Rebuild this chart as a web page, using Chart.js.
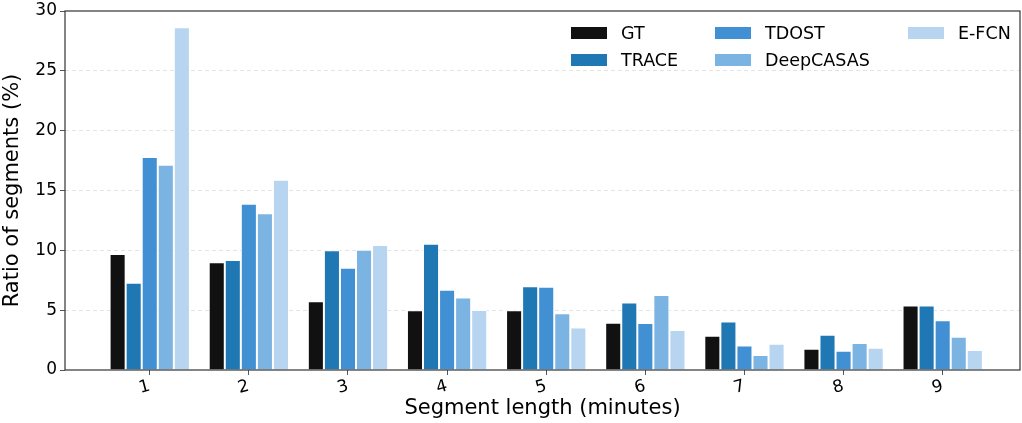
<!DOCTYPE html>
<html>
<head>
<meta charset="utf-8">
<script src="https://cdn.jsdelivr.net/npm/chart.js@4"></script>
<style>
  html, body { margin: 0; padding: 0; background: #fff; }
  #wrap { width: 1022px; height: 423px; }
</style>
</head>
<body>
<div id="wrap"><canvas id="myChart" width="1022" height="423"></canvas></div>
<script>
const lengths = [1, 2, 3, 4, 5, 6, 7, 8, 9];
const gt        = [9.7, 9.0, 5.75, 5.0, 5.0, 3.95, 2.87, 1.78, 5.4];
const trace     = [7.3, 9.2, 10.0, 10.55, 7.0, 5.65, 4.05, 2.95, 5.4];
const tdost     = [17.8, 13.9, 8.55, 6.7, 6.95, 3.93, 2.05, 1.6, 4.15];
const deepcasas = [17.15, 13.1, 10.05, 6.05, 4.75, 6.27, 1.25, 2.25, 2.78];
const efcn      = [28.65, 15.9, 10.45, 5.02, 3.55, 3.35, 2.2, 1.85, 1.68];
const yTicks = [0, 5, 10, 15, 20, 25, 30];

const names  = ['GT', 'TRACE', 'TDOST', 'DeepCASAS', 'E-FCN'];
const colors = ['#111111', '#1f77b4', '#4190d4', '#7bb3e3', '#b7d4f0'];
const series = [gt, trace, tdost, deepcasas, efcn];

const font = 'DejaVu Sans';

const datasets = series.map((vals, i) => ({
    label: names[i],
    data: vals.map((v, j) => ({ x: lengths[j], y: v })),
    backgroundColor: colors[i],
    borderColor: '#ffffff',
    borderWidth: 1,
    categoryPercentage: 0.81,
    barPercentage: 1.0
}));

// box around the plot + legend in 3 columns (matplotlib ncol=3 style)
const frameAndLegend = {
    id: 'frameAndLegend',
    afterDraw(chart) {
        const { ctx, chartArea: a } = chart;
        ctx.save();
        ctx.strokeStyle = '#333333';
        ctx.lineWidth = 1.2;
        ctx.strokeRect(a.left, a.top, a.right - a.left, a.bottom - a.top);

        const cols = [a.left + 506, a.left + 650, a.left + 843];
        const rows = [a.top + 22, a.top + 49];
        ctx.font = '17.5px "' + font + '"';
        ctx.textBaseline = 'middle';
        ctx.fillStyle = '#000';
        names.forEach((n, i) => {
            const cx = cols[Math.floor(i / 2)];
            const cy = rows[i % 2];
            ctx.fillStyle = colors[i];
            ctx.fillRect(cx, cy - 6, 36, 12);
            ctx.fillStyle = '#000';
            ctx.fillText(n, cx + 50, cy + 1);
        });
        ctx.restore();
    }
};

const config = {
    type: 'bar',
    data: { datasets: datasets },
    plugins: [frameAndLegend],
    options: {
        responsive: false,
        animation: false,
        layout: { padding: { top: 11, right: 2, left: 0, bottom: 0 } },
        scales: {
            x: {
                type: 'linear',
                offset: false,
                min: 0.145,
                max: 9.78,
                afterBuildTicks: s => { s.ticks = lengths.map(v => ({ value: v })); },
                afterFit: s => { s.height = 53; s.paddingLeft = 0; s.paddingRight = 0; },
                grid: { drawOnChartArea: false, drawTicks: true, tickLength: 5, tickColor: '#555', offset: false },
                border: { display: false },
                ticks: { color: '#000', font: { family: font, size: 17 }, minRotation: 15, maxRotation: 15, padding: 1 },
                title: { display: true, text: 'Segment length (minutes)', color: '#000', font: { family: font, size: 21 }, padding: { top: 0, bottom: 2 } }
            },
            y: {
                min: 0,
                max: 30,
                afterBuildTicks: s => { s.ticks = yTicks.map(v => ({ value: v })); },
                afterFit: s => { s.width = 65; s.paddingTop = 0; s.paddingBottom = 0; },
                grid: {
                    color: c => (c.tick && (c.tick.value === 0 || c.tick.value === 30)) ? 'rgba(0,0,0,0)' : '#e3e3e3',
                    lineWidth: 1,
                    tickLength: 5,
                    tickColor: '#555',
                    tickBorderDash: []
                },
                border: { display: false, dash: [4, 3] },
                ticks: { color: '#000', font: { family: font, size: 17 }, padding: 3 },
                title: { display: true, text: 'Ratio of segments (%)', color: '#000', font: { family: font, size: 21 }, padding: { top: 0, bottom: 1 } }
            }
        },
        plugins: {
            legend: { display: false },
            tooltip: { enabled: false }
        }
    }
};

const myChart = new Chart(document.getElementById('myChart'), config);
</script>
</body>
</html>
